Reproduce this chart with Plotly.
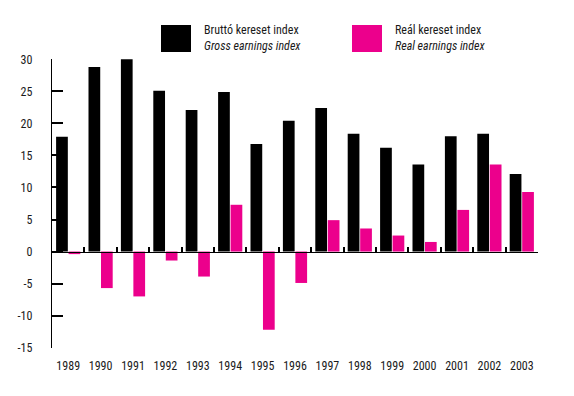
import plotly.graph_objects as go

years = ["1989", "1990", "1991", "1992", "1993", "1994", "1995", "1996",
         "1997", "1998", "1999", "2000", "2001", "2002", "2003"]
gross = [17.9, 28.8, 30.0, 25.1, 22.1, 24.9, 16.8, 20.4, 22.4, 18.4, 16.2, 13.6, 18.0, 18.4, 12.1]
real = [-0.4, -5.7, -7.0, -1.4, -3.9, 7.3, -12.2, -4.9, 4.9, 3.6, 2.5, 1.5, 6.5, 13.6, 9.3]
ytick_vals = [-15, -10, -5, 0, 5, 10, 15, 20, 25, 30]
ytick_text = ["-15", "-10", "-5", "0", "5", "10", "15", "20", "25", "30"]

FONT = "Roboto Condensed, DejaVu Sans Condensed, sans-serif"
BLACK = "#000000"
PINK = "#EC008C"
TXT = "#1a1a1a"

fig = go.Figure()
fig.add_trace(go.Bar(x=years, y=gross, marker=dict(color=BLACK, line=dict(width=0)),
                     name="Bruttó kereset index", showlegend=False))
fig.add_trace(go.Bar(x=years, y=real, marker=dict(color=PINK, line=dict(width=0)),
                     name="Reál kereset index", showlegend=False))
# invisible helper trace to carry the zero-line axis with category dividers
fig.add_trace(go.Scatter(x=list(range(len(years))), y=gross, xaxis="x2", mode="none",
                         showlegend=False, hoverinfo="skip"))

n = len(years)
fig.update_layout(
    width=574, height=396,
    margin=dict(l=52, r=36, t=59, b=48),
    paper_bgcolor="white", plot_bgcolor="white",
    barmode="group", bargap=0.23, bargroupgap=0.06,
    font=dict(family=FONT, size=12, color=TXT),
    xaxis=dict(type="category", showline=False, showgrid=False, zeroline=False,
               ticks="outside", ticklen=7, tickcolor="rgba(0,0,0,0)",
               tickfont=dict(family=FONT, size=12, color=TXT)),
    xaxis2=dict(overlaying="x", anchor="free", position=1/3, type="linear",
                range=[-0.5, n - 0.5],
                tickvals=[i + 0.5 for i in range(n - 1)] + [n - 0.51],
                ticks="inside", ticklen=5, tickwidth=1.6, tickcolor=BLACK,
                showticklabels=False, showline=True, linecolor=BLACK, linewidth=1.2,
                showgrid=False, zeroline=False),
    yaxis=dict(range=[-15.05, 30.05], tickvals=ytick_vals, ticktext=ytick_text,
               ticks="inside", ticklen=11, tickwidth=1.8, tickcolor=BLACK,
               showline=True, linecolor=BLACK, linewidth=1.4,
               showgrid=False, zeroline=False, ticklabelstandoff=16,
               tickfont=dict(family=FONT, size=12, color=TXT)),
)

# custom legend (squares + two-line labels)
legend_items = [
    ("Bruttó kereset index", "Gross earnings index", BLACK, 161),
    ("Reál kereset index", "Real earnings index", PINK, 352),
]
for hu, en, col, x0 in legend_items:
    fig.add_shape(type="rect", xref="paper", yref="paper",
                  x0=(x0 - 52) / 486, x1=(x0 + 30 - 52) / 486,
                  y0=(348 - 52) / 289, y1=(348 - 25) / 289,
                  fillcolor=col, line=dict(width=0))
    fig.add_annotation(xref="paper", yref="paper",
                       x=(x0 + 41 - 52) / 486, y=(348 - 38.5) / 289,
                       xanchor="left", yanchor="middle", align="left", showarrow=False,
                       text=f"{hu}<br><i>{en}</i>",
                       font=dict(family=FONT, size=12, color=TXT))

fig.write_html("out.html", config={"displayModeBar": False},
               post_script="document.body.style.margin='0';")
